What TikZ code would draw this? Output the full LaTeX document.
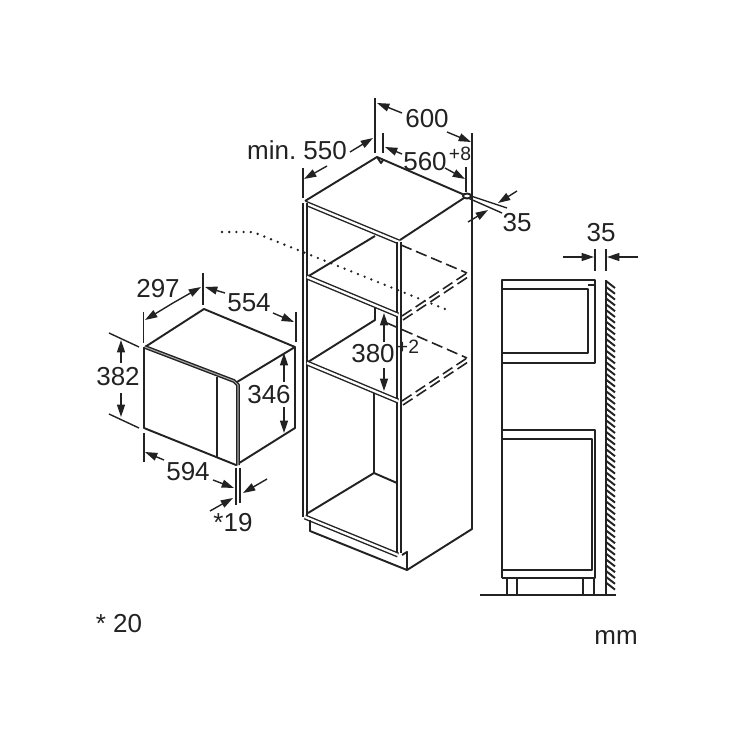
\documentclass[tikz,border=0pt]{standalone}
\usepackage{fontspec}
\setmainfont{Liberation Sans}
\usetikzlibrary{arrows.meta}
\definecolor{ink}{HTML}{222222}

\begin{document}
\begin{tikzpicture}[x=0.02cm, y=-0.02cm]
\tikzset{
    edge/.style={
        draw=ink,
        line width=1.1pt,
        line join=round,
    },
    twin/.style={
        draw=ink,
        line width=.8pt,
        double=white,
        double distance=1.3pt,
        line join=round,
    },
    thintwin/.style={
        twin,
        line width=.8pt,
        double=gray!70,
        double distance=.6pt,
    },
    extline/.style={
        draw=ink,
        line width=.8pt,
    },
    dimline/.style={
        draw=ink,
        line width=.8pt,
        -{Triangle[length=7pt, width=4.5pt]},
    },
    hidden/.style={
        draw=ink,
        line width=.9pt,
        dash pattern=on 6.5pt off 2.8pt,
    },
    dots/.style={
        draw=ink,
        line width=1.5pt,
        line cap=round,
        dash pattern=on 0pt off 4.1pt,
    },
    size/.style={
        text=ink,
        inner sep=0pt,
        font=\fontsize{14.8}{16}\selectfont,
    },
    small/.style={
        text=ink,
        inner sep=0pt,
        font=\fontsize{11}{12}\selectfont,
    },
}
    \useasboundingbox (0,0) rectangle (740,740);

    % microwave
    \draw[edge] (145,347) -- (204,309) -- (295,347) -- (237,382);
    \draw[edge] (295,347) -- (295,428) -- (236,465) -- (144,428) -- (144,347);
    \draw[thintwin] (145,347) -- (234,381) -- (238,385) -- (238,465);
    \draw[edge] (217,377) -- (217,457);

    % microwave sizes
    \draw[extline] (143.5,312) -- (143.5,343);
    \draw[extline] (203,273) -- (203,305);
    \draw[dimline] (173,303) -- (145,320);
    \draw[dimline] (173,303) -- (201,287);
    \node[size] (w297) at (158,289) {297};
    \draw[dimline] (225,293) -- (205,287);
    \node[size] (w554) at (249,303) {554};
    \draw[dimline] (273,313) -- (294,322);
    \draw[extline] (296,312) -- (296,342);
    \draw[extline] (109,333) -- (139,347);
    \draw[extline] (109,414) -- (139,428);
    \draw[dimline] (121,363) -- (121,340);
    \node[size] (h382) at (118,377) {382};
    \draw[dimline] (121,393) -- (121,417);
    \draw[dimline] (284,382) -- (284,353);
    \node[size] (h346) at (269,395) {346};
    \draw[dimline] (284,407) -- (284,433);
    \draw[extline] (144,433) -- (144,462);
    \draw[dimline] (164,460) -- (145,452);
    \node[size] (w594) at (188,472) {594};
    \draw[dimline] (213,480) -- (234,488);
    \draw[extline] (236,468) -- (236,505);
    \draw[extline] (240,468) -- (240,503);
    \draw[dimline] (267,479) -- (243,493);
    \draw[dimline] (210,511) -- (233,498);
    \node[size] (gap19) at (233,523) {*19};

    % cabinet
    \draw[edge] (305,201) -- (377,157) -- (467,196) -- (400,240);
    \draw[twin] (305,203) -- (399,242);
    \draw[twin] (305,203) -- (305,517);
    \draw[twin] (399,242) -- (399,553);
    \draw[edge] (472,133) -- (472,529) -- (407,570) -- (407,552) -- (402,555);
    \draw[edge] (307,277) -- (375,236);
    \draw[twin] (307,277) -- (398,315);
    \draw[edge] (375,308) -- (375,320) -- (308,362);
    \draw[twin] (307,363) -- (398,401);
    \draw[edge] (374,393) -- (374,473) -- (308,513);
    \draw[edge] (374,473) -- (397,483);
    \draw[twin] (305,517) -- (398,555);
    \draw[edge] (310,520) -- (310,531) -- (407,570);

    % shelves
    \draw[hidden] (401,245) -- (467,273);
    \draw[hidden] (402,316) -- (467,273);
    \draw[hidden] (403,320) -- (468,277);
    \draw[hidden] (387,323) -- (467,358);
    \draw[hidden] (402,401) -- (467,358);
    \draw[hidden] (403,405) -- (468,362);
    \draw[dots] (222,232) -- (253,232) -- (450,311);

    % details at top
    \draw[edge] (377,157) -- (381,163) -- (383,160);
    \draw[edge, fill=white] (467,196) ellipse [x radius=4, y radius=2.5];

    % cabinet sizes
    \draw[extline] (375,98) -- (375,153);
    \draw[dimline] (402,113) -- (377,103);
    \node[size] (w600) at (427,119) {600};
    \draw[dimline] (447,132) -- (471,142);
    \draw[extline] (383,133) -- (383,153);
    \draw[dimline] (402,154) -- (385,147);
    \node[size] (w560) at (425,162) {560};
    \node[small] (tol8) at (460,154) {+8};
    \draw[dimline] (445,168) -- (465,179);
    \draw[extline] (466,167) -- (466,192);
    \node[size] (d550) at (297,150) {min.\ 550};
    \draw[dimline] (350,152) -- (373,138);
    \draw[dimline] (327,166) -- (304,179);
    \draw[extline] (303,168) -- (303,198);
    \draw[extline] (471,196) -- (507,208);
    \draw[extline] (468,198) -- (502,213);
    \draw[dimline] (517,191) -- (498,203);
    \draw[dimline] (468,222) -- (488,210);
    \node[size] (gap35) at (517,223) {35};
    \draw[dimline] (384,342) -- (384,313);
    \node[size] (h380) at (373,354) {380};
    \node[small] (tol2) at (408,347) {+2};
    \draw[dimline] (384,368) -- (384,391);

    % side view
    \draw[edge] (502,578) -- (502,280) -- (595,280) -- (595,363) -- (502,363);
    \draw[edge] (502,289) -- (588,289) -- (588,353) -- (502,353);
    \draw[edge] (588,285) -- (595,285);
    \draw[edge] (502,430) -- (595,430) -- (595,578) -- (502,578);
    \draw[edge] (502,439) -- (592,439) -- (592,570) -- (502,570);
    \foreach \xleg in {507,517,583,594} {
        \draw[edge] (\xleg,578) -- (\xleg,595);
    }
    \draw[edge] (480,595) -- (616,595);
    \draw[edge] (606,280) -- (606,595);
    \foreach \yhatch in {281,286.8,...,588} {
        \draw[edge] (606,\yhatch) -- (615,\yhatch+7);
    }
    \draw[extline] (595,249) -- (595,271);
    \draw[extline] (606,249) -- (606,271);
    \draw[dimline] (563,257) -- (594,257);
    \draw[dimline] (638,257) -- (607,257);
    \node[size] (wall35) at (601,233) {35};

    % notes
    \node[size] (note20) at (119,624) {* 20};
    \node[size] (unit) at (616,637) {mm};
\end{tikzpicture}
\end{document}
